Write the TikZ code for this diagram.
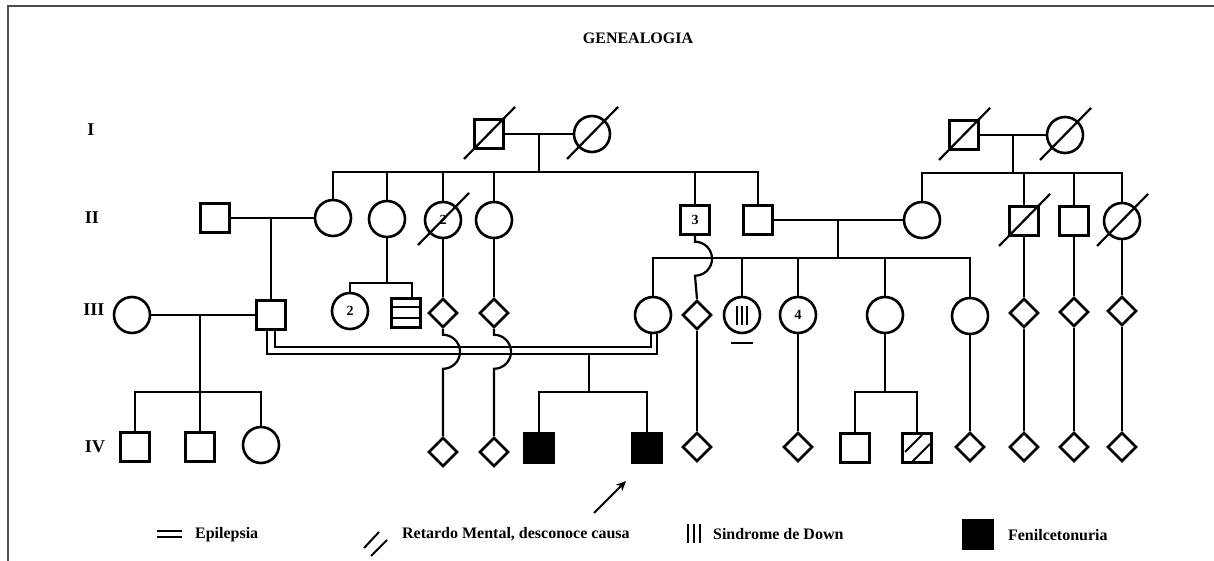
\documentclass[tikz,border=0pt]{standalone}
\usepackage{fontspec}
\setmainfont{Liberation Serif}
\usetikzlibrary{shapes.geometric,calc,arrows.meta}
\begin{document}
\begin{tikzpicture}[x=1pt,y=-1pt,line width=2.2pt,
  male/.style={draw, rectangle, minimum size=29pt, inner sep=0pt, line width=2.4pt},
  female/.style={draw, circle, minimum size=36pt, inner sep=0pt, line width=2.6pt},
  unk/.style={draw, diamond, minimum width=29pt, minimum height=29pt, inner sep=0pt, line width=2.6pt},
  aff/.style={male, fill=black},
  lbl/.style={font=\fontsize{16}{18}\selectfont\bfseries, inner sep=0pt},
  gen/.style={font=\fontsize{18}{20}\selectfont\bfseries, inner sep=0pt},
  num/.style={font=\fontsize{14}{16}\selectfont\bfseries},
  frame/.style={line width=1.4pt, draw=black!70},
  slash/.style={line width=2.2pt},
  symln/.style={line width=2pt}]
\useasboundingbox (0,0) rectangle (1214,561);
\draw[frame] (8,561) -- (8,6) -- (1214,6);
\node[lbl] (title) at (638,38) {GENEALOGIA};
% generation labels
\node[gen] (gI) at (91,130) {I};
\node[gen] (gII) at (92,218) {II};
\node[gen] (gIII) at (94,310) {III};
\node[gen] (gIV) at (95,447) {IV};
% generation I
\node[male] (I1) at (489,134) {};
\node[female] (I2) at (592,134) {};
\node[male] (I3) at (964,135) {};
\node[female] (I4) at (1065,135) {};
% generation II
\node[male] (A) at (215,218) {};
\node[female] (B) at (333,218) {};
\node[female] (C) at (387,219) {};
\node[female,num] (D) at (443,220) {2};
\node[female] (E) at (494,220) {};
\node[male,num] (F) at (695,220) {3};
\node[male] (G) at (758,220) {};
\node[female] (H) at (922,220) {};
\node[male] (J) at (1024,221) {};
\node[male] (K) at (1074,221) {};
\node[female] (L) at (1122,221) {};
% generation III
\node[female] (S3) at (132,315) {};
\node[male] (M) at (271,315) {};
\node[female,num] (N) at (350,311) {2};
\node[male] (P) at (406,313) {};
\node[unk] (Q) at (443,313) {};
\node[unk] (R) at (494,313) {};
\node[female] (S) at (653,315) {};
\node[unk] (T) at (697,315) {};
\node[female] (U) at (742,315) {};
\node[female,num] (V) at (798,315) {4};
\node[female] (W) at (885,315) {};
\node[female] (X) at (970,316) {};
\node[unk] (Y1) at (1024,313) {};
\node[unk] (Y2) at (1074,312) {};
\node[unk] (Y3) at (1122,311) {};
% generation IV
\node[male] (q1) at (135,447) {};
\node[male] (q2) at (200,447) {};
\node[female] (q3) at (261,445) {};
\node[unk] (q4) at (443,452) {};
\node[unk] (q5) at (494,452) {};
\node[aff] (q6) at (539,448) {};
\node[aff] (q7) at (647,448) {};
\node[unk] (q8) at (697,447) {};
\node[unk] (q9) at (798,447) {};
\node[male] (q10) at (855,448) {};
\node[male] (q11) at (917,448) {};
\node[unk] (q12) at (970,447) {};
\node[unk] (q13) at (1024,447) {};
\node[unk] (q14) at (1074,447) {};
\node[unk] (q15) at (1122,447) {};
% deceased slashes
\foreach \p in {I1,I2,I3,I4,D,J,L}
  \draw[slash] ($(\p)+(-25,25)$) -- ($(\p)+(26,-27)$);
% marks inside symbols
\draw[symln] ($(P)+(-14.5,-6)$) -- ($(P)+(14.5,-6)$)
  ($(P)+(-14.5,5)$) -- ($(P)+(14.5,5)$);
\draw[symln] ($(U)+(-5,-9)$) -- ($(U)+(-5,10)$)
  ($(U)+(0,-9)$) -- ($(U)+(0,10)$)
  ($(U)+(5,-9)$) -- ($(U)+(5,10)$);
\draw[symln] ($(U)+(-11,28)$) -- ($(U)+(11,28)$);
\draw[symln] ($(q11)+(-12,4)$) -- ($(q11)+(5,-13)$)
  ($(q11)+(-5,14)$) -- ($(q11)+(13,-4)$);
% family I left
\draw (I1.east) -- (I2.west);
\coordinate (m1) at ($(I1.east)!0.5!(I2.west)$);
\coordinate (s1) at (m1 |- 0,172);
\draw (m1) -- (s1);
\draw (B.north) |- (s1) -| (G.north);
\foreach \c in {C,D,E,F} \draw (\c.north) -- (\c.north |- s1);
% family I right
\draw (I3.east) -- (I4.west);
\coordinate (m2) at ($(I3.east)!0.5!(I4.west)$);
\coordinate (s2) at (m2 |- 0,173);
\draw (m2) -- (s2);
\draw (H.north) |- (s2) -| (L.north);
\foreach \c in {J,K} \draw (\c.north) -- (\c.north |- s2);
% A x B
\draw (A.east) -- (B.west);
\draw (M.north) -- (M.north |- A.east);
% C children
\coordinate (s3) at (387,283);
\draw (C.south) -- (s3);
\draw (N.north) |- (s3) -| ($(P.north)+(6,0)$);
% lines with hops
\draw (D.south) -- (Q.north);
\draw (Q.south) -- ++(0,6) arc[start angle=90,end angle=-90,radius=17pt] -- (q4.north);
\draw (E.south) -- (R.north);
\draw (R.south) -- ++(0,6) arc[start angle=90,end angle=-90,radius=17pt] -- (q5.north);
\draw (F.south) -- ++(0,6) arc[start angle=90,end angle=-90,radius=17pt] -- (T.north);
\draw (T.south) -- (q8.north);
% G x H
\draw (G.east) -- (H.west);
\coordinate (m3) at (838,220);
\coordinate (s4) at (838,258);
\draw (m3) -- (s4);
\draw (S.north) |- (s4) -| (X.north);
\foreach \c in {U,V,W} \draw (\c.north) -- (\c.north |- s4);
\draw (V.south) -- (q9.north);
\draw (X.south) -- (q12.north);
\coordinate (s5) at (885,392);
\draw (W.south) -- (s5);
\draw (q10.north) |- (s5) -| (q11.north);
% right family II -> III -> IV
\draw (J.south) -- (Y1.north);  \draw (Y1.south) -- (q13.north);
\draw (K.south) -- (Y2.north);  \draw (Y2.south) -- (q14.north);
\draw (L.south) -- (Y3.north);  \draw (Y3.south) -- (q15.north);
% S3 x M
\draw (S3.east) -- (M.west);
\coordinate (m5) at (200,315);
\coordinate (s6) at (200,392);
\draw (m5) -- (s6);
\draw (q1.north) |- (s6) -| (q3.north);
\draw (q2.north) -- (s6);
% consanguineous union M = S
\draw ($(M.south)+(4,0)$) |- ($(S.south)+(-2,13)$) -- ($(S.south)+(-2,0)$);
\draw ($(M.south)+(-4,0)$) |- ($(S.south)+(4,20)$) -- ($(S.south)+(4,0)$);
\coordinate (cd) at (589,353);
\coordinate (s7) at (589,392);
\draw (cd) -- (s7);
\draw (q6.north) |- (s7) -| (q7.north);
% proband arrow
\coordinate (ar1) at (594,513);
\coordinate (ar2) at (626,481);
\draw[line width=1.8pt,-{Stealth[length=10pt,width=9pt]}] (ar1) -- (ar2);
% legend
\draw[symln] (157,531) -- (182,531) (157,536.5) -- (182,536.5);
\node[lbl,anchor=west] (lg1) at (194,535) {Epilepsia};
\draw[symln] (364,548) -- (379,532) (371,556) -- (387,540);
\node[lbl,anchor=west] (lg2) at (401,534) {Retardo Mental, desconoce causa};
\draw[symln] (688,524) -- (688,543) (694,524) -- (694,543) (700,524) -- (700,543);
\node[lbl,anchor=west] (lg3) at (712,534) {Sindrome de Down};
\node[aff] (lg4) at (978,534.5) {};
\node[lbl,anchor=west] (lg5) at (1007,535) {Fenilcetonuria};
\end{tikzpicture}
\end{document}
